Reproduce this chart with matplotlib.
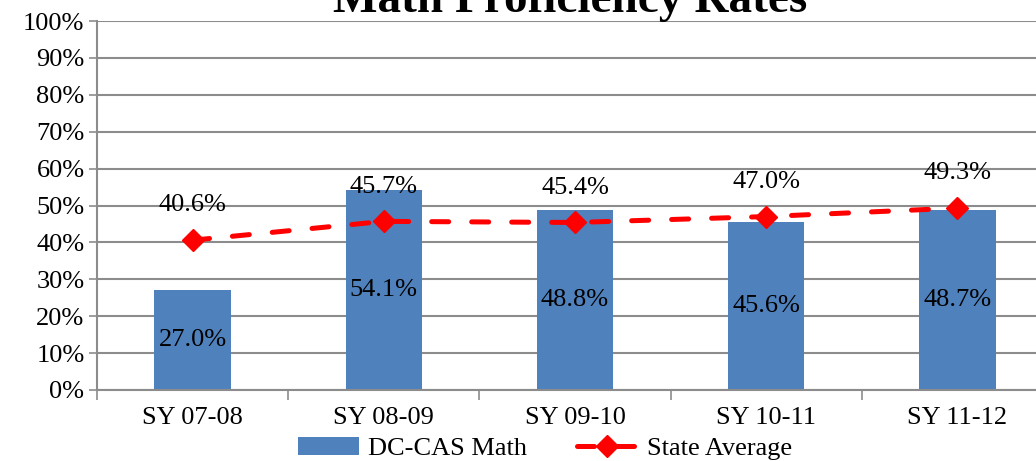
import matplotlib
matplotlib.use("Agg")
import matplotlib.pyplot as plt
from matplotlib.lines import Line2D
from matplotlib.patches import Patch

categories = ["SY 07-08", "SY 08-09", "SY 09-10", "SY 10-11", "SY 11-12"]
dc_cas_math = [27.0, 54.1, 48.8, 45.6, 48.7]
state_average = [40.6, 45.7, 45.4, 47.0, 49.3]

plt.rcParams['font.family'] = ['Liberation Serif', 'DejaVu Serif']

fig = plt.figure(figsize=(10.36, 4.61), dpi=100)
ax = fig.add_axes([97/1036, 1 - 390/461, (1053 - 97)/1036, (390 - 21)/461])

x = list(range(len(categories)))
bar_color = "#4F81BD"
line_style = dict(color="#FF0000", linewidth=3.6, linestyle=(0, (3.4, 4.6)),
                  dash_capstyle="round", marker="D", markersize=11)
ax.bar(x, dc_cas_math, width=0.4, color=bar_color, zorder=2)
ax.plot(x, state_average, zorder=3, **line_style)

for xi, v in zip(x, dc_cas_math):
    ax.text(xi, v / 2, f"{v:.1f}%", ha="center", va="center", fontsize=19, zorder=4)
for xi, v in zip(x, state_average):
    ax.annotate(f"{v:.1f}%", (xi, v), xytext=(0, 25), textcoords="offset points",
                ha="center", va="center", fontsize=19, zorder=4)

ax.set_xlim(-0.5, 4.5)
ax.set_ylim(0, 100)
ax.set_yticks(range(0, 101, 10))
ax.set_yticklabels([f"{t}%" for t in range(0, 101, 10)], fontsize=19)
ax.set_xticks(x)
ax.set_xticklabels(categories, fontsize=19)
ax.set_xticks([i - 0.5 for i in range(6)], minor=True)
ax.tick_params(axis="x", which="major", length=0, pad=12)
ax.tick_params(axis="x", which="minor", length=7, color="#8C8C8C", width=1.2)
ax.tick_params(axis="y", length=6, color="#8C8C8C", width=1.2, pad=3)
ax.grid(axis="y", color="#8C8C8C", linewidth=1.5, zorder=0)
ax.set_axisbelow(True)
for s in ["top", "right"]:
    ax.spines[s].set_visible(False)
ax.spines["left"].set_color("#8C8C8C")
ax.spines["left"].set_linewidth(1.5)
ax.spines["bottom"].set_color("#8C8C8C")
ax.spines["bottom"].set_linewidth(1.5)

fig.text(570/1036, 1 - 12/461, "Math Proficiency Rates", ha="center", va="baseline",
         fontsize=34, fontweight="bold")

handles = [Patch(facecolor=bar_color, label="DC-CAS Math"),
           Line2D([0], [0], label="State Average", **line_style)]
fig.legend(handles=handles, loc="lower center", bbox_to_anchor=(545/1036, -0.05), ncol=2,
           frameon=False, fontsize=19, handlelength=2.3, handletextpad=0.35,
           columnspacing=1.9)

fig.savefig("out.png", dpi=100)
